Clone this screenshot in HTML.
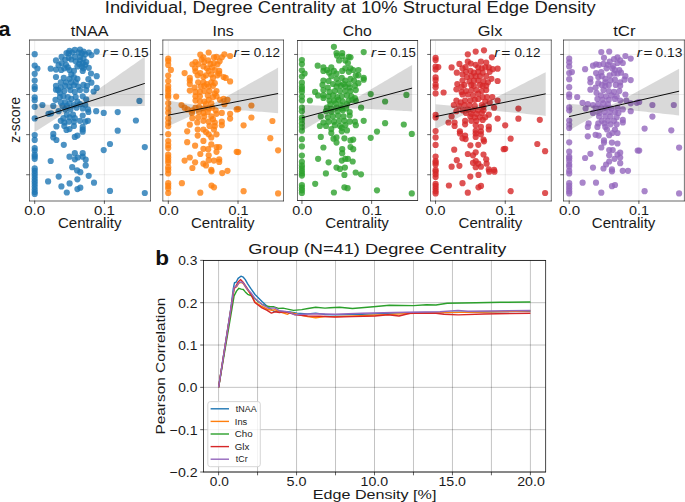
<!DOCTYPE html>
<html><head><meta charset="utf-8"><style>
html,body{margin:0;padding:0;background:#fff;width:685px;height:502px;overflow:hidden}
svg text{font-family:"Liberation Sans", sans-serif}
</style></head><body style="position:relative">
<svg width="685" height="502" viewBox="0 0 685 502" style="position:absolute;left:0;top:0">
<rect width="685" height="502" fill="#fff"/>
<text x="104.80" y="12.6" font-size="16.3" fill="#1a1a1a" textLength="490.80" lengthAdjust="spacingAndGlyphs">Individual, Degree Centrality at 10% Structural Edge Density</text>
<text x="-1.60" y="36.4" font-size="19.5" font-weight="bold" fill="#111" textLength="12.00" lengthAdjust="spacingAndGlyphs">a</text>
<defs><clipPath id="c0"><rect x="29.45" y="40.4" width="120.95" height="160.20"/></clipPath></defs>
<g clip-path="url(#c0)">
<line x1="29.45" x2="150.4" y1="54.45" y2="54.45" stroke="#000" stroke-opacity="0.075" stroke-width="1"/>
<line x1="29.45" x2="150.4" y1="94.55" y2="94.55" stroke="#000" stroke-opacity="0.075" stroke-width="1"/>
<line x1="29.45" x2="150.4" y1="134.65" y2="134.65" stroke="#000" stroke-opacity="0.075" stroke-width="1"/>
<line x1="29.45" x2="150.4" y1="174.75" y2="174.75" stroke="#000" stroke-opacity="0.075" stroke-width="1"/>
<line x1="34.70" x2="34.70" y1="40.4" y2="200.6" stroke="#000" stroke-opacity="0.075" stroke-width="1"/>
<line x1="104.40" x2="104.40" y1="40.4" y2="200.6" stroke="#000" stroke-opacity="0.075" stroke-width="1"/>
<g fill="#1f77b4" fill-opacity="0.8">
<circle cx="34.7" cy="54.2" r="3.1"/>
<circle cx="34.7" cy="65.5" r="3.1"/>
<circle cx="34.7" cy="73.8" r="3.1"/>
<circle cx="34.7" cy="80.6" r="3.1"/>
<circle cx="34.7" cy="86.7" r="3.1"/>
<circle cx="34.7" cy="89.0" r="3.1"/>
<circle cx="34.7" cy="97.3" r="3.1"/>
<circle cx="34.7" cy="100.2" r="3.1"/>
<circle cx="34.7" cy="106.8" r="3.1"/>
<circle cx="34.7" cy="118.4" r="3.1"/>
<circle cx="37.4" cy="68.5" r="3.1"/>
<circle cx="42.4" cy="105.0" r="3.1"/>
<circle cx="139.4" cy="100.9" r="3.1"/>
<circle cx="117.7" cy="112.1" r="3.1"/>
<circle cx="135.9" cy="120.5" r="3.1"/>
<circle cx="34.7" cy="135.1" r="3.1"/>
<circle cx="34.7" cy="139.9" r="3.1"/>
<circle cx="34.7" cy="148.1" r="3.1"/>
<circle cx="34.7" cy="150.6" r="3.1"/>
<circle cx="34.7" cy="154.7" r="3.1"/>
<circle cx="34.7" cy="156.5" r="3.1"/>
<circle cx="34.7" cy="158.8" r="3.1"/>
<circle cx="34.7" cy="168.4" r="3.1"/>
<circle cx="34.7" cy="170.8" r="3.1"/>
<circle cx="34.7" cy="173.4" r="3.1"/>
<circle cx="34.7" cy="176.1" r="3.1"/>
<circle cx="34.7" cy="178.8" r="3.1"/>
<circle cx="34.7" cy="181.4" r="3.1"/>
<circle cx="34.7" cy="184.1" r="3.1"/>
<circle cx="34.7" cy="186.8" r="3.1"/>
<circle cx="34.7" cy="189.5" r="3.1"/>
<circle cx="34.7" cy="192.1" r="3.1"/>
<circle cx="34.7" cy="193.9" r="3.1"/>
<circle cx="77.1" cy="170.4" r="3.1"/>
<circle cx="80.3" cy="172.2" r="3.1"/>
<circle cx="77.4" cy="179.3" r="3.1"/>
<circle cx="88.7" cy="175.8" r="3.1"/>
<circle cx="58.7" cy="176.6" r="3.1"/>
<circle cx="48.1" cy="181.4" r="3.1"/>
<circle cx="69.6" cy="183.4" r="3.1"/>
<circle cx="61.4" cy="186.4" r="3.1"/>
<circle cx="66.8" cy="192.5" r="3.1"/>
<circle cx="77.4" cy="189.1" r="3.1"/>
<circle cx="80.3" cy="187.7" r="3.1"/>
<circle cx="94.0" cy="182.7" r="3.1"/>
<circle cx="110.0" cy="190.9" r="3.1"/>
<circle cx="144.8" cy="193.0" r="3.1"/>
<circle cx="110.0" cy="144.0" r="3.1"/>
<circle cx="144.8" cy="147.1" r="3.1"/>
<circle cx="117.7" cy="130.7" r="3.1"/>
<circle cx="66.5" cy="53.0" r="3.1"/>
<circle cx="69.5" cy="50.8" r="3.1"/>
<circle cx="74.8" cy="49.9" r="3.1"/>
<circle cx="80.0" cy="49.5" r="3.1"/>
<circle cx="83.5" cy="51.6" r="3.1"/>
<circle cx="88.8" cy="52.5" r="3.1"/>
<circle cx="91.4" cy="55.1" r="3.1"/>
<circle cx="96.7" cy="51.6" r="3.1"/>
<circle cx="68.7" cy="53.4" r="3.1"/>
<circle cx="72.2" cy="52.5" r="3.1"/>
<circle cx="78.3" cy="52.5" r="3.1"/>
<circle cx="81.8" cy="53.4" r="3.1"/>
<circle cx="85.3" cy="54.3" r="3.1"/>
<circle cx="61.6" cy="56.9" r="3.1"/>
<circle cx="56.0" cy="60.4" r="3.1"/>
<circle cx="65.2" cy="59.5" r="3.1"/>
<circle cx="68.7" cy="57.8" r="3.1"/>
<circle cx="71.3" cy="59.5" r="3.1"/>
<circle cx="74.8" cy="56.9" r="3.1"/>
<circle cx="80.0" cy="56.9" r="3.1"/>
<circle cx="75.7" cy="61.3" r="3.1"/>
<circle cx="80.0" cy="60.4" r="3.1"/>
<circle cx="83.5" cy="58.6" r="3.1"/>
<circle cx="86.2" cy="62.1" r="3.1"/>
<circle cx="85.3" cy="64.8" r="3.1"/>
<circle cx="88.8" cy="67.8" r="3.1"/>
<circle cx="79.2" cy="63.9" r="3.1"/>
<circle cx="82.7" cy="63.0" r="3.1"/>
<circle cx="58.6" cy="65.2" r="3.1"/>
<circle cx="61.6" cy="63.0" r="3.1"/>
<circle cx="66.0" cy="64.8" r="3.1"/>
<circle cx="67.8" cy="67.4" r="3.1"/>
<circle cx="77.4" cy="66.5" r="3.1"/>
<circle cx="81.8" cy="66.5" r="3.1"/>
<circle cx="50.7" cy="68.7" r="3.1"/>
<circle cx="56.0" cy="69.6" r="3.1"/>
<circle cx="61.2" cy="70.0" r="3.1"/>
<circle cx="64.3" cy="68.3" r="3.1"/>
<circle cx="69.5" cy="70.0" r="3.1"/>
<circle cx="73.9" cy="70.9" r="3.1"/>
<circle cx="82.7" cy="70.9" r="3.1"/>
<circle cx="83.5" cy="68.3" r="3.1"/>
<circle cx="56.0" cy="77.0" r="3.1"/>
<circle cx="63.8" cy="77.9" r="3.1"/>
<circle cx="69.5" cy="78.8" r="3.1"/>
<circle cx="73.9" cy="77.0" r="3.1"/>
<circle cx="77.4" cy="78.8" r="3.1"/>
<circle cx="71.3" cy="74.4" r="3.1"/>
<circle cx="91.0" cy="73.5" r="3.1"/>
<circle cx="96.7" cy="76.2" r="3.1"/>
<circle cx="88.4" cy="79.2" r="3.1"/>
<circle cx="91.4" cy="82.7" r="3.1"/>
<circle cx="60.8" cy="82.3" r="3.1"/>
<circle cx="66.0" cy="82.3" r="3.1"/>
<circle cx="71.3" cy="82.3" r="3.1"/>
<circle cx="75.7" cy="82.3" r="3.1"/>
<circle cx="83.5" cy="84.9" r="3.1"/>
<circle cx="56.0" cy="85.8" r="3.1"/>
<circle cx="56.0" cy="89.7" r="3.1"/>
<circle cx="60.8" cy="87.5" r="3.1"/>
<circle cx="65.2" cy="85.8" r="3.1"/>
<circle cx="69.5" cy="86.6" r="3.1"/>
<circle cx="73.9" cy="85.3" r="3.1"/>
<circle cx="78.3" cy="86.6" r="3.1"/>
<circle cx="87.0" cy="85.8" r="3.1"/>
<circle cx="96.7" cy="87.9" r="3.1"/>
<circle cx="93.6" cy="91.5" r="3.1"/>
<circle cx="86.2" cy="90.1" r="3.1"/>
<circle cx="80.0" cy="90.1" r="3.1"/>
<circle cx="74.8" cy="91.9" r="3.1"/>
<circle cx="70.4" cy="90.1" r="3.1"/>
<circle cx="64.3" cy="91.0" r="3.1"/>
<circle cx="59.9" cy="92.8" r="3.1"/>
<circle cx="58.1" cy="90.1" r="3.1"/>
<circle cx="55.5" cy="99.8" r="3.1"/>
<circle cx="59.9" cy="97.1" r="3.1"/>
<circle cx="63.4" cy="96.3" r="3.1"/>
<circle cx="67.8" cy="97.1" r="3.1"/>
<circle cx="71.3" cy="98.9" r="3.1"/>
<circle cx="75.7" cy="97.1" r="3.1"/>
<circle cx="82.7" cy="96.3" r="3.1"/>
<circle cx="86.2" cy="99.3" r="3.1"/>
<circle cx="77.4" cy="101.5" r="3.1"/>
<circle cx="60.8" cy="102.4" r="3.1"/>
<circle cx="65.2" cy="102.4" r="3.1"/>
<circle cx="69.5" cy="103.3" r="3.1"/>
<circle cx="62.5" cy="105.9" r="3.1"/>
<circle cx="66.9" cy="105.9" r="3.1"/>
<circle cx="73.9" cy="105.0" r="3.1"/>
<circle cx="80.0" cy="104.2" r="3.1"/>
<circle cx="85.3" cy="105.0" r="3.1"/>
<circle cx="53.3" cy="105.9" r="3.1"/>
<circle cx="48.5" cy="113.8" r="3.1"/>
<circle cx="51.1" cy="113.3" r="3.1"/>
<circle cx="58.6" cy="111.2" r="3.1"/>
<circle cx="65.2" cy="109.4" r="3.1"/>
<circle cx="70.4" cy="109.4" r="3.1"/>
<circle cx="76.5" cy="107.7" r="3.1"/>
<circle cx="82.7" cy="108.5" r="3.1"/>
<circle cx="87.9" cy="109.4" r="3.1"/>
<circle cx="88.4" cy="112.0" r="3.1"/>
<circle cx="96.2" cy="111.2" r="3.1"/>
<circle cx="103.7" cy="112.9" r="3.1"/>
<circle cx="66.9" cy="114.7" r="3.1"/>
<circle cx="73.0" cy="114.7" r="3.1"/>
<circle cx="82.7" cy="115.5" r="3.1"/>
<circle cx="63.4" cy="118.2" r="3.1"/>
<circle cx="69.5" cy="117.3" r="3.1"/>
<circle cx="74.8" cy="118.2" r="3.1"/>
<circle cx="60.8" cy="120.8" r="3.1"/>
<circle cx="64.3" cy="122.5" r="3.1"/>
<circle cx="68.7" cy="121.7" r="3.1"/>
<circle cx="73.9" cy="121.7" r="3.1"/>
<circle cx="80.0" cy="120.8" r="3.1"/>
<circle cx="87.9" cy="120.8" r="3.1"/>
<circle cx="85.3" cy="121.7" r="3.1"/>
<circle cx="56.4" cy="126.5" r="3.1"/>
<circle cx="64.3" cy="126.0" r="3.1"/>
<circle cx="73.9" cy="126.0" r="3.1"/>
<circle cx="82.7" cy="126.9" r="3.1"/>
<circle cx="66.5" cy="129.9" r="3.1"/>
<circle cx="69.5" cy="129.1" r="3.1"/>
<circle cx="82.7" cy="129.5" r="3.1"/>
<circle cx="82.7" cy="131.7" r="3.1"/>
<circle cx="53.3" cy="133.9" r="3.1"/>
<circle cx="53.3" cy="137.4" r="3.1"/>
<circle cx="56.4" cy="140.0" r="3.1"/>
<circle cx="74.8" cy="136.9" r="3.1"/>
<circle cx="77.4" cy="135.6" r="3.1"/>
<circle cx="63.8" cy="144.8" r="3.1"/>
<circle cx="103.7" cy="150.1" r="3.1"/>
<circle cx="74.8" cy="153.2" r="3.1"/>
<circle cx="82.7" cy="153.2" r="3.1"/>
<circle cx="69.5" cy="156.7" r="3.1"/>
<circle cx="74.8" cy="159.3" r="3.1"/>
<circle cx="77.8" cy="157.5" r="3.1"/>
<circle cx="82.7" cy="156.7" r="3.1"/>
<circle cx="85.7" cy="159.7" r="3.1"/>
<circle cx="85.7" cy="165.4" r="3.1"/>
<circle cx="50.7" cy="161.0" r="3.1"/>
<circle cx="72.2" cy="167.2" r="3.1"/>
</g>
<polygon points="34.8,103.98 37.55,104.12 40.3,104.26 43.05,104.39 45.8,104.52 48.55,104.65 51.3,104.78 54.05,104.9 56.8,105.01 59.55,105.1 62.3,105.18 65.05,105.22 67.8,105.19 70.55,105.02 73.3,104.56 76.05,103.62 78.8,102.22 81.55,100.56 84.3,98.79 87.05,96.95 89.8,95.09 92.55,93.2 95.3,91.31 98.05,89.4 100.8,87.49 103.55,85.58 106.3,83.66 109.05,81.74 111.8,79.82 114.55,77.89 117.3,75.97 120.05,74.04 122.8,72.12 125.55,70.19 128.3,68.26 131.05,66.33 133.8,64.41 136.55,62.48 139.3,60.55 142.05,58.62 144.8,56.69 144.8,106.09 142.05,106.1 139.3,106.12 136.55,106.13 133.8,106.14 131.05,106.16 128.3,106.17 125.55,106.19 122.8,106.21 120.05,106.22 117.3,106.24 114.55,106.26 111.8,106.28 109.05,106.3 106.3,106.33 103.55,106.36 100.8,106.39 98.05,106.42 95.3,106.47 92.55,106.52 89.8,106.58 87.05,106.67 84.3,106.79 81.55,106.97 78.8,107.27 76.05,107.78 73.3,108.64 70.55,109.85 67.8,111.3 65.05,112.89 62.3,114.54 59.55,116.24 56.8,117.95 54.05,119.68 51.3,121.43 48.55,123.17 45.8,124.93 43.05,126.68 40.3,128.44 37.55,130.21 34.8,131.97" fill="#000" fill-opacity="0.15"/>
<line x1="34.8" y1="119.1" x2="144.8" y2="83.4" stroke="#000" stroke-width="0.95"/>
</g>
<line x1="29.5" x2="29.5" y1="39.7" y2="201.3" stroke="#000" stroke-width="0.55"/>
<line x1="150.5" x2="150.5" y1="39.7" y2="201.3" stroke="#000" stroke-width="0.55"/>
<line x1="29.2" x2="150.8" y1="40.0" y2="40.0" stroke="#000" stroke-width="0.6"/>
<line x1="29.2" x2="150.8" y1="201.0" y2="201.0" stroke="#000" stroke-width="0.6"/>
<line x1="26.15" x2="29.45" y1="54.45" y2="54.45" stroke="#000" stroke-width="0.62"/>
<line x1="26.15" x2="29.45" y1="94.55" y2="94.55" stroke="#000" stroke-width="0.62"/>
<line x1="26.15" x2="29.45" y1="134.65" y2="134.65" stroke="#000" stroke-width="0.62"/>
<line x1="26.15" x2="29.45" y1="174.75" y2="174.75" stroke="#000" stroke-width="0.62"/>
<line x1="34.70" x2="34.70" y1="200.6" y2="203.9" stroke="#000" stroke-width="0.62"/>
<line x1="104.40" x2="104.40" y1="200.6" y2="203.9" stroke="#000" stroke-width="0.62"/>
<text x="70.80" y="36.3" font-size="14.7" fill="#1a1a1a" textLength="37.60" lengthAdjust="spacingAndGlyphs">tNAA</text>
<text x="24.20" y="214.9" font-size="13.3" fill="#1a1a1a" textLength="21.00" lengthAdjust="spacingAndGlyphs">0.0</text>
<text x="94.00" y="214.9" font-size="13.3" fill="#1a1a1a" textLength="21.00" lengthAdjust="spacingAndGlyphs">0.1</text>
<text x="57.90" y="228.4" font-size="14.0" fill="#1a1a1a" textLength="63.60" lengthAdjust="spacingAndGlyphs">Centrality</text>
<text x="102.60" y="56.7" font-size="12.8" font-style="italic" fill="#1a1a1a" textLength="5.20" lengthAdjust="spacingAndGlyphs">r</text>
<text x="110.00" y="56.7" font-size="12.8" fill="#1a1a1a" textLength="8.60" lengthAdjust="spacingAndGlyphs">=</text>
<text x="122.00" y="56.7" font-size="12.8" fill="#1a1a1a" textLength="26.60" lengthAdjust="spacingAndGlyphs">0.15</text>
<defs><clipPath id="c1"><rect x="163.0" y="40.4" width="120.40" height="160.20"/></clipPath></defs>
<g clip-path="url(#c1)">
<line x1="163.0" x2="283.4" y1="54.45" y2="54.45" stroke="#000" stroke-opacity="0.075" stroke-width="1"/>
<line x1="163.0" x2="283.4" y1="94.55" y2="94.55" stroke="#000" stroke-opacity="0.075" stroke-width="1"/>
<line x1="163.0" x2="283.4" y1="134.65" y2="134.65" stroke="#000" stroke-opacity="0.075" stroke-width="1"/>
<line x1="163.0" x2="283.4" y1="174.75" y2="174.75" stroke="#000" stroke-opacity="0.075" stroke-width="1"/>
<line x1="168.32" x2="168.32" y1="40.4" y2="200.6" stroke="#000" stroke-opacity="0.075" stroke-width="1"/>
<line x1="238.02" x2="238.02" y1="40.4" y2="200.6" stroke="#000" stroke-opacity="0.075" stroke-width="1"/>
<g fill="#ff7f0e" fill-opacity="0.8">
<circle cx="168.2" cy="58.7" r="3.1"/>
<circle cx="168.2" cy="61.0" r="3.1"/>
<circle cx="168.2" cy="64.9" r="3.1"/>
<circle cx="168.2" cy="75.6" r="3.1"/>
<circle cx="168.2" cy="81.0" r="3.1"/>
<circle cx="168.2" cy="86.0" r="3.1"/>
<circle cx="168.2" cy="89.0" r="3.1"/>
<circle cx="168.2" cy="91.7" r="3.1"/>
<circle cx="168.2" cy="95.2" r="3.1"/>
<circle cx="168.2" cy="97.3" r="3.1"/>
<circle cx="168.2" cy="103.2" r="3.1"/>
<circle cx="168.2" cy="108.6" r="3.1"/>
<circle cx="168.2" cy="112.7" r="3.1"/>
<circle cx="168.2" cy="118.4" r="3.1"/>
<circle cx="170.9" cy="69.9" r="3.1"/>
<circle cx="176.2" cy="96.6" r="3.1"/>
<circle cx="238.2" cy="109.1" r="3.1"/>
<circle cx="251.4" cy="105.5" r="3.1"/>
<circle cx="251.4" cy="117.5" r="3.1"/>
<circle cx="272.4" cy="121.0" r="3.1"/>
<circle cx="168.2" cy="122.7" r="3.1"/>
<circle cx="168.2" cy="126.2" r="3.1"/>
<circle cx="168.2" cy="134.2" r="3.1"/>
<circle cx="168.2" cy="141.0" r="3.1"/>
<circle cx="168.2" cy="144.9" r="3.1"/>
<circle cx="168.2" cy="148.1" r="3.1"/>
<circle cx="168.2" cy="154.7" r="3.1"/>
<circle cx="168.2" cy="157.4" r="3.1"/>
<circle cx="168.2" cy="160.1" r="3.1"/>
<circle cx="168.2" cy="162.7" r="3.1"/>
<circle cx="168.2" cy="167.2" r="3.1"/>
<circle cx="168.2" cy="169.9" r="3.1"/>
<circle cx="168.2" cy="173.4" r="3.1"/>
<circle cx="168.2" cy="183.2" r="3.1"/>
<circle cx="168.2" cy="185.9" r="3.1"/>
<circle cx="168.2" cy="188.6" r="3.1"/>
<circle cx="168.2" cy="193.0" r="3.1"/>
<circle cx="211.5" cy="171.3" r="3.1"/>
<circle cx="222.2" cy="173.1" r="3.1"/>
<circle cx="227.5" cy="170.8" r="3.1"/>
<circle cx="181.9" cy="183.2" r="3.1"/>
<circle cx="211.5" cy="185.5" r="3.1"/>
<circle cx="214.0" cy="187.3" r="3.1"/>
<circle cx="200.3" cy="192.7" r="3.1"/>
<circle cx="243.6" cy="191.2" r="3.1"/>
<circle cx="278.1" cy="193.4" r="3.1"/>
<circle cx="238.2" cy="152.1" r="3.1"/>
<circle cx="278.1" cy="150.3" r="3.1"/>
<circle cx="270.3" cy="138.2" r="3.1"/>
<circle cx="243.6" cy="125.3" r="3.1"/>
<circle cx="208.7" cy="52.5" r="3.1"/>
<circle cx="200.3" cy="54.7" r="3.1"/>
<circle cx="203.4" cy="57.3" r="3.1"/>
<circle cx="213.9" cy="57.3" r="3.1"/>
<circle cx="216.5" cy="56.9" r="3.1"/>
<circle cx="221.8" cy="57.3" r="3.1"/>
<circle cx="224.4" cy="54.3" r="3.1"/>
<circle cx="230.1" cy="56.0" r="3.1"/>
<circle cx="192.4" cy="64.3" r="3.1"/>
<circle cx="195.5" cy="62.1" r="3.1"/>
<circle cx="198.2" cy="64.3" r="3.1"/>
<circle cx="201.7" cy="59.5" r="3.1"/>
<circle cx="204.3" cy="62.1" r="3.1"/>
<circle cx="208.2" cy="60.4" r="3.1"/>
<circle cx="210.4" cy="63.9" r="3.1"/>
<circle cx="213.9" cy="63.0" r="3.1"/>
<circle cx="217.4" cy="64.3" r="3.1"/>
<circle cx="219.6" cy="61.3" r="3.1"/>
<circle cx="195.1" cy="68.3" r="3.1"/>
<circle cx="195.5" cy="71.3" r="3.1"/>
<circle cx="203.4" cy="66.5" r="3.1"/>
<circle cx="206.9" cy="68.3" r="3.1"/>
<circle cx="208.7" cy="70.9" r="3.1"/>
<circle cx="212.2" cy="67.4" r="3.1"/>
<circle cx="214.8" cy="70.0" r="3.1"/>
<circle cx="219.2" cy="70.9" r="3.1"/>
<circle cx="184.6" cy="73.1" r="3.1"/>
<circle cx="200.3" cy="73.1" r="3.1"/>
<circle cx="197.7" cy="75.3" r="3.1"/>
<circle cx="203.4" cy="77.0" r="3.1"/>
<circle cx="206.0" cy="75.3" r="3.1"/>
<circle cx="211.3" cy="74.4" r="3.1"/>
<circle cx="213.0" cy="77.9" r="3.1"/>
<circle cx="217.4" cy="75.3" r="3.1"/>
<circle cx="219.2" cy="73.5" r="3.1"/>
<circle cx="223.6" cy="77.0" r="3.1"/>
<circle cx="225.7" cy="77.9" r="3.1"/>
<circle cx="230.1" cy="81.4" r="3.1"/>
<circle cx="189.8" cy="77.9" r="3.1"/>
<circle cx="189.8" cy="80.5" r="3.1"/>
<circle cx="189.8" cy="84.0" r="3.1"/>
<circle cx="198.2" cy="82.3" r="3.1"/>
<circle cx="203.4" cy="82.3" r="3.1"/>
<circle cx="206.9" cy="84.0" r="3.1"/>
<circle cx="211.3" cy="82.3" r="3.1"/>
<circle cx="214.8" cy="83.2" r="3.1"/>
<circle cx="189.8" cy="90.6" r="3.1"/>
<circle cx="194.6" cy="87.5" r="3.1"/>
<circle cx="195.5" cy="91.9" r="3.1"/>
<circle cx="200.8" cy="86.6" r="3.1"/>
<circle cx="204.3" cy="85.8" r="3.1"/>
<circle cx="208.7" cy="86.6" r="3.1"/>
<circle cx="213.0" cy="85.8" r="3.1"/>
<circle cx="216.5" cy="91.0" r="3.1"/>
<circle cx="214.8" cy="93.6" r="3.1"/>
<circle cx="209.5" cy="91.0" r="3.1"/>
<circle cx="204.3" cy="91.0" r="3.1"/>
<circle cx="199.9" cy="91.9" r="3.1"/>
<circle cx="195.5" cy="96.3" r="3.1"/>
<circle cx="199.9" cy="96.3" r="3.1"/>
<circle cx="207.8" cy="95.4" r="3.1"/>
<circle cx="213.0" cy="97.1" r="3.1"/>
<circle cx="216.5" cy="96.3" r="3.1"/>
<circle cx="220.0" cy="99.8" r="3.1"/>
<circle cx="223.6" cy="98.9" r="3.1"/>
<circle cx="227.5" cy="99.8" r="3.1"/>
<circle cx="224.4" cy="104.2" r="3.1"/>
<circle cx="195.5" cy="100.6" r="3.1"/>
<circle cx="199.9" cy="101.5" r="3.1"/>
<circle cx="204.3" cy="101.5" r="3.1"/>
<circle cx="208.7" cy="99.8" r="3.1"/>
<circle cx="211.3" cy="103.3" r="3.1"/>
<circle cx="206.0" cy="104.2" r="3.1"/>
<circle cx="181.5" cy="105.0" r="3.1"/>
<circle cx="184.6" cy="107.7" r="3.1"/>
<circle cx="187.6" cy="109.4" r="3.1"/>
<circle cx="192.4" cy="110.3" r="3.1"/>
<circle cx="192.0" cy="112.9" r="3.1"/>
<circle cx="195.5" cy="107.7" r="3.1"/>
<circle cx="199.0" cy="106.8" r="3.1"/>
<circle cx="203.4" cy="108.5" r="3.1"/>
<circle cx="208.7" cy="108.5" r="3.1"/>
<circle cx="212.2" cy="107.7" r="3.1"/>
<circle cx="215.7" cy="110.3" r="3.1"/>
<circle cx="216.5" cy="113.8" r="3.1"/>
<circle cx="221.8" cy="112.9" r="3.1"/>
<circle cx="230.1" cy="113.8" r="3.1"/>
<circle cx="236.7" cy="109.4" r="3.1"/>
<circle cx="199.0" cy="112.0" r="3.1"/>
<circle cx="203.4" cy="112.9" r="3.1"/>
<circle cx="207.8" cy="112.0" r="3.1"/>
<circle cx="192.4" cy="118.2" r="3.1"/>
<circle cx="198.2" cy="117.3" r="3.1"/>
<circle cx="204.3" cy="116.4" r="3.1"/>
<circle cx="211.3" cy="116.4" r="3.1"/>
<circle cx="213.0" cy="119.0" r="3.1"/>
<circle cx="230.1" cy="118.6" r="3.1"/>
<circle cx="197.3" cy="122.5" r="3.1"/>
<circle cx="203.4" cy="120.8" r="3.1"/>
<circle cx="208.7" cy="121.7" r="3.1"/>
<circle cx="214.8" cy="122.5" r="3.1"/>
<circle cx="221.8" cy="121.7" r="3.1"/>
<circle cx="189.8" cy="124.7" r="3.1"/>
<circle cx="209.5" cy="126.0" r="3.1"/>
<circle cx="214.8" cy="126.0" r="3.1"/>
<circle cx="221.8" cy="125.2" r="3.1"/>
<circle cx="197.7" cy="129.5" r="3.1"/>
<circle cx="203.4" cy="129.5" r="3.1"/>
<circle cx="206.0" cy="132.1" r="3.1"/>
<circle cx="213.9" cy="129.5" r="3.1"/>
<circle cx="187.2" cy="131.3" r="3.1"/>
<circle cx="197.7" cy="135.6" r="3.1"/>
<circle cx="208.7" cy="134.3" r="3.1"/>
<circle cx="211.3" cy="137.4" r="3.1"/>
<circle cx="216.5" cy="134.3" r="3.1"/>
<circle cx="187.2" cy="142.2" r="3.1"/>
<circle cx="203.4" cy="140.9" r="3.1"/>
<circle cx="195.1" cy="145.7" r="3.1"/>
<circle cx="211.3" cy="144.4" r="3.1"/>
<circle cx="216.5" cy="147.0" r="3.1"/>
<circle cx="219.2" cy="147.0" r="3.1"/>
<circle cx="203.4" cy="148.8" r="3.1"/>
<circle cx="208.2" cy="149.2" r="3.1"/>
<circle cx="200.3" cy="154.0" r="3.1"/>
<circle cx="216.5" cy="151.8" r="3.1"/>
<circle cx="236.7" cy="151.8" r="3.1"/>
<circle cx="189.8" cy="157.5" r="3.1"/>
<circle cx="184.6" cy="160.6" r="3.1"/>
<circle cx="195.1" cy="162.3" r="3.1"/>
<circle cx="208.7" cy="155.3" r="3.1"/>
<circle cx="208.7" cy="160.2" r="3.1"/>
<circle cx="213.9" cy="160.6" r="3.1"/>
<circle cx="219.2" cy="159.3" r="3.1"/>
<circle cx="219.2" cy="161.9" r="3.1"/>
<circle cx="203.4" cy="163.7" r="3.1"/>
<circle cx="206.0" cy="165.4" r="3.1"/>
<circle cx="192.4" cy="168.0" r="3.1"/>
<circle cx="211.3" cy="169.8" r="3.1"/>
</g>
<polygon points="168.2,100.54 170.95,101.0 173.69,101.45 176.44,101.9 179.19,102.35 181.94,102.8 184.69,103.24 187.43,103.68 190.18,104.1 192.93,104.52 195.68,104.91 198.42,105.26 201.17,105.55 203.92,105.7 206.66,105.56 209.41,104.97 212.16,103.95 214.91,102.68 217.66,101.29 220.4,99.84 223.15,98.36 225.9,96.86 228.65,95.34 231.39,93.82 234.14,92.29 236.89,90.76 239.64,89.23 242.38,87.69 245.13,86.15 247.88,84.61 250.62,83.07 253.37,81.52 256.12,79.98 258.87,78.43 261.62,76.89 264.36,75.34 267.11,73.8 269.86,72.25 272.61,70.7 275.35,69.15 278.1,67.61 278.1,113.17 275.35,112.96 272.61,112.74 269.86,112.52 267.11,112.3 264.36,112.09 261.62,111.87 258.87,111.66 256.12,111.44 253.37,111.23 250.62,111.02 247.88,110.81 245.13,110.6 242.38,110.39 239.64,110.19 236.89,109.98 234.14,109.79 231.39,109.6 228.65,109.41 225.9,109.24 223.15,109.08 220.4,108.94 217.66,108.84 214.91,108.8 212.16,108.86 209.41,109.11 206.66,109.63 203.92,110.42 201.17,111.4 198.42,112.51 195.68,113.69 192.93,114.9 190.18,116.15 187.43,117.4 184.69,118.67 181.94,119.95 179.19,121.23 176.44,122.51 173.69,123.8 170.95,125.1 168.2,126.39" fill="#000" fill-opacity="0.15"/>
<line x1="168.2" y1="115.2" x2="278.1" y2="93.5" stroke="#000" stroke-width="0.95"/>
</g>
<line x1="162.8" x2="162.8" y1="39.7" y2="201.3" stroke="#000" stroke-width="0.55"/>
<line x1="283.5" x2="283.5" y1="39.7" y2="201.3" stroke="#000" stroke-width="0.55"/>
<line x1="162.5" x2="283.8" y1="40.0" y2="40.0" stroke="#000" stroke-width="0.6"/>
<line x1="162.5" x2="283.8" y1="201.0" y2="201.0" stroke="#000" stroke-width="0.6"/>
<line x1="159.7" x2="163.0" y1="54.45" y2="54.45" stroke="#000" stroke-width="0.62"/>
<line x1="159.7" x2="163.0" y1="94.55" y2="94.55" stroke="#000" stroke-width="0.62"/>
<line x1="159.7" x2="163.0" y1="134.65" y2="134.65" stroke="#000" stroke-width="0.62"/>
<line x1="159.7" x2="163.0" y1="174.75" y2="174.75" stroke="#000" stroke-width="0.62"/>
<line x1="168.32" x2="168.32" y1="200.6" y2="203.9" stroke="#000" stroke-width="0.62"/>
<line x1="238.02" x2="238.02" y1="200.6" y2="203.9" stroke="#000" stroke-width="0.62"/>
<text x="212.60" y="36.3" font-size="14.7" fill="#1a1a1a" textLength="21.20" lengthAdjust="spacingAndGlyphs">Ins</text>
<text x="158.68" y="214.9" font-size="13.3" fill="#1a1a1a" textLength="20.00" lengthAdjust="spacingAndGlyphs">0.0</text>
<text x="228.48" y="214.9" font-size="13.3" fill="#1a1a1a" textLength="20.00" lengthAdjust="spacingAndGlyphs">0.1</text>
<text x="191.00" y="228.4" font-size="14.0" fill="#1a1a1a" textLength="63.60" lengthAdjust="spacingAndGlyphs">Centrality</text>
<text x="233.60" y="56.7" font-size="12.8" font-style="italic" fill="#1a1a1a" textLength="5.20" lengthAdjust="spacingAndGlyphs">r</text>
<text x="240.60" y="56.7" font-size="12.8" fill="#1a1a1a" textLength="9.80" lengthAdjust="spacingAndGlyphs">=</text>
<text x="253.80" y="56.7" font-size="12.8" fill="#1a1a1a" textLength="26.20" lengthAdjust="spacingAndGlyphs">0.12</text>
<defs><clipPath id="c2"><rect x="297.45" y="40.4" width="120.15" height="160.20"/></clipPath></defs>
<g clip-path="url(#c2)">
<line x1="297.45" x2="417.6" y1="54.45" y2="54.45" stroke="#000" stroke-opacity="0.075" stroke-width="1"/>
<line x1="297.45" x2="417.6" y1="94.55" y2="94.55" stroke="#000" stroke-opacity="0.075" stroke-width="1"/>
<line x1="297.45" x2="417.6" y1="134.65" y2="134.65" stroke="#000" stroke-opacity="0.075" stroke-width="1"/>
<line x1="297.45" x2="417.6" y1="174.75" y2="174.75" stroke="#000" stroke-opacity="0.075" stroke-width="1"/>
<line x1="301.94" x2="301.94" y1="40.4" y2="200.6" stroke="#000" stroke-opacity="0.075" stroke-width="1"/>
<line x1="371.64" x2="371.64" y1="40.4" y2="200.6" stroke="#000" stroke-opacity="0.075" stroke-width="1"/>
<g fill="#2ca02c" fill-opacity="0.8">
<circle cx="301.9" cy="60.0" r="3.1"/>
<circle cx="301.9" cy="64.0" r="3.1"/>
<circle cx="301.9" cy="70.3" r="3.1"/>
<circle cx="301.9" cy="76.5" r="3.1"/>
<circle cx="301.9" cy="82.7" r="3.1"/>
<circle cx="301.9" cy="86.7" r="3.1"/>
<circle cx="301.9" cy="89.0" r="3.1"/>
<circle cx="301.9" cy="91.7" r="3.1"/>
<circle cx="301.9" cy="96.6" r="3.1"/>
<circle cx="301.9" cy="100.5" r="3.1"/>
<circle cx="301.9" cy="107.7" r="3.1"/>
<circle cx="301.9" cy="111.2" r="3.1"/>
<circle cx="301.9" cy="117.5" r="3.1"/>
<circle cx="304.6" cy="73.5" r="3.1"/>
<circle cx="309.9" cy="100.5" r="3.1"/>
<circle cx="385.1" cy="101.5" r="3.1"/>
<circle cx="406.4" cy="94.9" r="3.1"/>
<circle cx="301.9" cy="120.0" r="3.1"/>
<circle cx="301.9" cy="123.6" r="3.1"/>
<circle cx="301.9" cy="127.1" r="3.1"/>
<circle cx="301.9" cy="130.7" r="3.1"/>
<circle cx="301.9" cy="139.2" r="3.1"/>
<circle cx="301.9" cy="146.4" r="3.1"/>
<circle cx="301.9" cy="155.6" r="3.1"/>
<circle cx="301.9" cy="161.8" r="3.1"/>
<circle cx="301.9" cy="165.4" r="3.1"/>
<circle cx="301.9" cy="168.1" r="3.1"/>
<circle cx="301.9" cy="170.8" r="3.1"/>
<circle cx="301.9" cy="173.4" r="3.1"/>
<circle cx="301.9" cy="175.6" r="3.1"/>
<circle cx="301.9" cy="185.0" r="3.1"/>
<circle cx="301.9" cy="187.7" r="3.1"/>
<circle cx="301.9" cy="190.3" r="3.1"/>
<circle cx="301.9" cy="193.0" r="3.1"/>
<circle cx="325.9" cy="173.4" r="3.1"/>
<circle cx="315.2" cy="183.8" r="3.1"/>
<circle cx="344.4" cy="174.9" r="3.1"/>
<circle cx="355.7" cy="172.5" r="3.1"/>
<circle cx="361.0" cy="174.3" r="3.1"/>
<circle cx="344.4" cy="187.3" r="3.1"/>
<circle cx="347.6" cy="188.2" r="3.1"/>
<circle cx="333.9" cy="192.5" r="3.1"/>
<circle cx="377.0" cy="190.3" r="3.1"/>
<circle cx="411.8" cy="193.4" r="3.1"/>
<circle cx="377.0" cy="131.6" r="3.1"/>
<circle cx="411.8" cy="133.9" r="3.1"/>
<circle cx="385.1" cy="123.2" r="3.1"/>
<circle cx="403.8" cy="124.5" r="3.1"/>
<circle cx="333.9" cy="46.8" r="3.1"/>
<circle cx="363.7" cy="52.1" r="3.1"/>
<circle cx="336.5" cy="53.0" r="3.1"/>
<circle cx="342.2" cy="53.0" r="3.1"/>
<circle cx="337.0" cy="55.6" r="3.1"/>
<circle cx="342.2" cy="56.0" r="3.1"/>
<circle cx="348.8" cy="56.9" r="3.1"/>
<circle cx="350.5" cy="57.3" r="3.1"/>
<circle cx="339.1" cy="60.4" r="3.1"/>
<circle cx="345.3" cy="60.4" r="3.1"/>
<circle cx="347.9" cy="63.0" r="3.1"/>
<circle cx="317.7" cy="65.7" r="3.1"/>
<circle cx="323.4" cy="67.4" r="3.1"/>
<circle cx="323.4" cy="70.9" r="3.1"/>
<circle cx="331.3" cy="67.4" r="3.1"/>
<circle cx="326.9" cy="70.0" r="3.1"/>
<circle cx="333.9" cy="70.9" r="3.1"/>
<circle cx="329.1" cy="72.7" r="3.1"/>
<circle cx="336.5" cy="73.5" r="3.1"/>
<circle cx="342.2" cy="70.9" r="3.1"/>
<circle cx="345.3" cy="68.3" r="3.1"/>
<circle cx="350.5" cy="68.3" r="3.1"/>
<circle cx="353.2" cy="70.0" r="3.1"/>
<circle cx="358.4" cy="70.0" r="3.1"/>
<circle cx="348.8" cy="71.8" r="3.1"/>
<circle cx="355.8" cy="75.3" r="3.1"/>
<circle cx="358.4" cy="75.3" r="3.1"/>
<circle cx="363.7" cy="77.9" r="3.1"/>
<circle cx="363.7" cy="79.7" r="3.1"/>
<circle cx="331.3" cy="76.2" r="3.1"/>
<circle cx="323.4" cy="80.5" r="3.1"/>
<circle cx="328.6" cy="81.0" r="3.1"/>
<circle cx="336.5" cy="78.8" r="3.1"/>
<circle cx="341.8" cy="77.9" r="3.1"/>
<circle cx="345.3" cy="80.5" r="3.1"/>
<circle cx="350.5" cy="78.8" r="3.1"/>
<circle cx="354.0" cy="80.5" r="3.1"/>
<circle cx="358.4" cy="83.2" r="3.1"/>
<circle cx="322.5" cy="84.9" r="3.1"/>
<circle cx="333.0" cy="84.0" r="3.1"/>
<circle cx="338.3" cy="83.2" r="3.1"/>
<circle cx="343.5" cy="84.0" r="3.1"/>
<circle cx="348.8" cy="84.0" r="3.1"/>
<circle cx="323.4" cy="90.1" r="3.1"/>
<circle cx="327.8" cy="87.5" r="3.1"/>
<circle cx="336.5" cy="86.6" r="3.1"/>
<circle cx="340.9" cy="85.8" r="3.1"/>
<circle cx="345.3" cy="86.6" r="3.1"/>
<circle cx="349.7" cy="87.5" r="3.1"/>
<circle cx="354.9" cy="85.8" r="3.1"/>
<circle cx="355.8" cy="90.1" r="3.1"/>
<circle cx="350.5" cy="91.0" r="3.1"/>
<circle cx="345.3" cy="91.0" r="3.1"/>
<circle cx="340.0" cy="91.0" r="3.1"/>
<circle cx="334.8" cy="91.0" r="3.1"/>
<circle cx="329.5" cy="91.9" r="3.1"/>
<circle cx="315.1" cy="91.9" r="3.1"/>
<circle cx="318.1" cy="95.4" r="3.1"/>
<circle cx="323.4" cy="95.4" r="3.1"/>
<circle cx="323.4" cy="98.0" r="3.1"/>
<circle cx="328.6" cy="96.3" r="3.1"/>
<circle cx="333.0" cy="95.4" r="3.1"/>
<circle cx="337.4" cy="97.1" r="3.1"/>
<circle cx="341.8" cy="96.3" r="3.1"/>
<circle cx="347.0" cy="95.4" r="3.1"/>
<circle cx="351.4" cy="96.3" r="3.1"/>
<circle cx="354.9" cy="98.0" r="3.1"/>
<circle cx="355.8" cy="100.6" r="3.1"/>
<circle cx="370.7" cy="94.1" r="3.1"/>
<circle cx="329.5" cy="100.6" r="3.1"/>
<circle cx="333.9" cy="100.6" r="3.1"/>
<circle cx="338.3" cy="99.8" r="3.1"/>
<circle cx="342.7" cy="101.5" r="3.1"/>
<circle cx="348.8" cy="100.6" r="3.1"/>
<circle cx="352.3" cy="99.8" r="3.1"/>
<circle cx="330.4" cy="104.2" r="3.1"/>
<circle cx="335.6" cy="103.3" r="3.1"/>
<circle cx="340.9" cy="105.0" r="3.1"/>
<circle cx="347.0" cy="104.2" r="3.1"/>
<circle cx="326.9" cy="107.7" r="3.1"/>
<circle cx="331.3" cy="108.5" r="3.1"/>
<circle cx="336.5" cy="107.7" r="3.1"/>
<circle cx="341.8" cy="108.5" r="3.1"/>
<circle cx="346.2" cy="108.5" r="3.1"/>
<circle cx="361.1" cy="107.7" r="3.1"/>
<circle cx="326.0" cy="111.2" r="3.1"/>
<circle cx="331.3" cy="112.0" r="3.1"/>
<circle cx="337.4" cy="111.2" r="3.1"/>
<circle cx="342.7" cy="110.3" r="3.1"/>
<circle cx="349.7" cy="112.0" r="3.1"/>
<circle cx="320.8" cy="116.4" r="3.1"/>
<circle cx="327.8" cy="117.3" r="3.1"/>
<circle cx="333.0" cy="116.4" r="3.1"/>
<circle cx="338.3" cy="115.5" r="3.1"/>
<circle cx="343.5" cy="116.4" r="3.1"/>
<circle cx="349.7" cy="115.5" r="3.1"/>
<circle cx="363.7" cy="120.8" r="3.1"/>
<circle cx="323.4" cy="122.5" r="3.1"/>
<circle cx="328.6" cy="121.7" r="3.1"/>
<circle cx="333.9" cy="121.7" r="3.1"/>
<circle cx="339.1" cy="120.8" r="3.1"/>
<circle cx="344.4" cy="120.8" r="3.1"/>
<circle cx="349.7" cy="121.7" r="3.1"/>
<circle cx="354.9" cy="121.7" r="3.1"/>
<circle cx="319.9" cy="126.0" r="3.1"/>
<circle cx="326.0" cy="126.0" r="3.1"/>
<circle cx="334.8" cy="125.2" r="3.1"/>
<circle cx="340.0" cy="126.0" r="3.1"/>
<circle cx="345.3" cy="125.2" r="3.1"/>
<circle cx="355.8" cy="125.2" r="3.1"/>
<circle cx="331.3" cy="129.1" r="3.1"/>
<circle cx="331.3" cy="133.0" r="3.1"/>
<circle cx="341.8" cy="127.8" r="3.1"/>
<circle cx="341.8" cy="131.3" r="3.1"/>
<circle cx="347.0" cy="130.4" r="3.1"/>
<circle cx="320.8" cy="136.9" r="3.1"/>
<circle cx="333.5" cy="138.7" r="3.1"/>
<circle cx="336.5" cy="137.4" r="3.1"/>
<circle cx="336.5" cy="142.6" r="3.1"/>
<circle cx="344.4" cy="138.3" r="3.1"/>
<circle cx="350.5" cy="140.4" r="3.1"/>
<circle cx="353.2" cy="139.6" r="3.1"/>
<circle cx="370.7" cy="137.8" r="3.1"/>
<circle cx="323.4" cy="147.5" r="3.1"/>
<circle cx="342.2" cy="149.2" r="3.1"/>
<circle cx="342.2" cy="153.2" r="3.1"/>
<circle cx="350.5" cy="147.0" r="3.1"/>
<circle cx="353.2" cy="149.2" r="3.1"/>
<circle cx="318.1" cy="158.8" r="3.1"/>
<circle cx="328.6" cy="162.3" r="3.1"/>
<circle cx="341.8" cy="160.6" r="3.1"/>
<circle cx="345.3" cy="158.8" r="3.1"/>
<circle cx="347.9" cy="158.8" r="3.1"/>
<circle cx="352.7" cy="161.5" r="3.1"/>
<circle cx="336.5" cy="167.6" r="3.1"/>
<circle cx="340.0" cy="168.9" r="3.1"/>
<circle cx="344.9" cy="167.6" r="3.1"/>
</g>
<polygon points="301.9,104.75 304.65,104.89 307.41,105.04 310.16,105.18 312.92,105.32 315.67,105.46 318.43,105.59 321.19,105.71 323.94,105.83 326.69,105.93 329.45,106.0 332.2,106.04 334.96,106.01 337.71,105.85 340.47,105.44 343.23,104.65 345.98,103.51 348.74,102.15 351.49,100.67 354.25,99.14 357.0,97.56 359.75,95.97 362.51,94.36 365.26,92.75 368.02,91.13 370.77,89.5 373.53,87.87 376.29,86.24 379.04,84.6 381.8,82.96 384.55,81.33 387.31,79.69 390.06,78.05 392.81,76.4 395.57,74.76 398.33,73.12 401.08,71.48 403.84,69.83 406.59,68.19 409.35,66.55 412.1,64.9 412.1,111.44 409.35,111.28 406.59,111.12 403.84,110.96 401.08,110.8 398.33,110.64 395.57,110.48 392.81,110.33 390.06,110.17 387.31,110.01 384.55,109.86 381.8,109.71 379.04,109.55 376.29,109.4 373.53,109.25 370.77,109.11 368.02,108.97 365.26,108.83 362.51,108.7 359.75,108.57 357.0,108.47 354.25,108.38 351.49,108.32 348.74,108.33 345.98,108.45 343.23,108.8 340.47,109.5 337.71,110.59 334.96,111.92 332.2,113.38 329.45,114.92 326.69,116.49 323.94,118.09 321.19,119.7 318.43,121.32 315.67,122.94 312.92,124.58 310.16,126.21 307.41,127.85 304.65,129.49 301.9,131.13" fill="#000" fill-opacity="0.15"/>
<line x1="301.9" y1="117.9" x2="412.1" y2="88.1" stroke="#000" stroke-width="0.95"/>
</g>
<line x1="297.5" x2="297.5" y1="40.2" y2="200.8" stroke="#000" stroke-width="0.55"/>
<line x1="417.6" x2="417.6" y1="40.2" y2="200.8" stroke="#000" stroke-width="0.55"/>
<line x1="297.2" x2="417.90000000000003" y1="40.5" y2="40.5" stroke="#000" stroke-width="0.75"/>
<line x1="297.2" x2="417.90000000000003" y1="200.5" y2="200.5" stroke="#000" stroke-width="0.75"/>
<line x1="294.15" x2="297.45" y1="54.45" y2="54.45" stroke="#000" stroke-width="0.62"/>
<line x1="294.15" x2="297.45" y1="94.55" y2="94.55" stroke="#000" stroke-width="0.62"/>
<line x1="294.15" x2="297.45" y1="134.65" y2="134.65" stroke="#000" stroke-width="0.62"/>
<line x1="294.15" x2="297.45" y1="174.75" y2="174.75" stroke="#000" stroke-width="0.62"/>
<line x1="301.94" x2="301.94" y1="200.6" y2="203.9" stroke="#000" stroke-width="0.62"/>
<line x1="371.64" x2="371.64" y1="200.6" y2="203.9" stroke="#000" stroke-width="0.62"/>
<text x="342.80" y="36.3" font-size="14.7" fill="#1a1a1a" textLength="29.00" lengthAdjust="spacingAndGlyphs">Cho</text>
<text x="292.16" y="214.9" font-size="13.3" fill="#1a1a1a" textLength="20.00" lengthAdjust="spacingAndGlyphs">0.0</text>
<text x="361.96" y="214.9" font-size="13.3" fill="#1a1a1a" textLength="20.00" lengthAdjust="spacingAndGlyphs">0.1</text>
<text x="325.30" y="228.4" font-size="14.0" fill="#1a1a1a" textLength="63.60" lengthAdjust="spacingAndGlyphs">Centrality</text>
<text x="371.00" y="56.7" font-size="12.8" font-style="italic" fill="#1a1a1a" textLength="5.20" lengthAdjust="spacingAndGlyphs">r</text>
<text x="377.60" y="56.7" font-size="12.8" fill="#1a1a1a" textLength="8.80" lengthAdjust="spacingAndGlyphs">=</text>
<text x="390.20" y="56.7" font-size="12.8" fill="#1a1a1a" textLength="25.60" lengthAdjust="spacingAndGlyphs">0.15</text>
<defs><clipPath id="c3"><rect x="430.5" y="40.4" width="120.70" height="160.20"/></clipPath></defs>
<g clip-path="url(#c3)">
<line x1="430.5" x2="551.2" y1="54.45" y2="54.45" stroke="#000" stroke-opacity="0.075" stroke-width="1"/>
<line x1="430.5" x2="551.2" y1="94.55" y2="94.55" stroke="#000" stroke-opacity="0.075" stroke-width="1"/>
<line x1="430.5" x2="551.2" y1="134.65" y2="134.65" stroke="#000" stroke-opacity="0.075" stroke-width="1"/>
<line x1="430.5" x2="551.2" y1="174.75" y2="174.75" stroke="#000" stroke-opacity="0.075" stroke-width="1"/>
<line x1="435.56" x2="435.56" y1="40.4" y2="200.6" stroke="#000" stroke-opacity="0.075" stroke-width="1"/>
<line x1="505.26" x2="505.26" y1="40.4" y2="200.6" stroke="#000" stroke-opacity="0.075" stroke-width="1"/>
<g fill="#d62728" fill-opacity="0.8">
<circle cx="435.6" cy="57.8" r="3.1"/>
<circle cx="435.6" cy="60.0" r="3.1"/>
<circle cx="435.6" cy="66.7" r="3.1"/>
<circle cx="435.6" cy="69.4" r="3.1"/>
<circle cx="435.6" cy="77.4" r="3.1"/>
<circle cx="435.6" cy="80.1" r="3.1"/>
<circle cx="435.6" cy="84.5" r="3.1"/>
<circle cx="435.6" cy="87.2" r="3.1"/>
<circle cx="435.6" cy="93.4" r="3.1"/>
<circle cx="435.6" cy="114.8" r="3.1"/>
<circle cx="435.6" cy="117.5" r="3.1"/>
<circle cx="438.3" cy="67.1" r="3.1"/>
<circle cx="443.6" cy="92.5" r="3.1"/>
<circle cx="518.4" cy="108.6" r="3.1"/>
<circle cx="518.4" cy="118.7" r="3.1"/>
<circle cx="539.8" cy="119.8" r="3.1"/>
<circle cx="435.6" cy="131.0" r="3.1"/>
<circle cx="435.6" cy="137.4" r="3.1"/>
<circle cx="435.6" cy="144.9" r="3.1"/>
<circle cx="435.6" cy="156.5" r="3.1"/>
<circle cx="435.6" cy="161.0" r="3.1"/>
<circle cx="435.6" cy="162.7" r="3.1"/>
<circle cx="435.6" cy="164.5" r="3.1"/>
<circle cx="435.6" cy="169.9" r="3.1"/>
<circle cx="435.6" cy="171.7" r="3.1"/>
<circle cx="435.6" cy="174.3" r="3.1"/>
<circle cx="435.6" cy="177.0" r="3.1"/>
<circle cx="435.6" cy="183.8" r="3.1"/>
<circle cx="435.6" cy="185.9" r="3.1"/>
<circle cx="435.6" cy="188.6" r="3.1"/>
<circle cx="435.6" cy="191.2" r="3.1"/>
<circle cx="435.6" cy="193.4" r="3.1"/>
<circle cx="505.2" cy="125.3" r="3.1"/>
<circle cx="510.6" cy="138.7" r="3.1"/>
<circle cx="537.3" cy="144.0" r="3.1"/>
<circle cx="545.1" cy="151.2" r="3.1"/>
<circle cx="505.2" cy="148.8" r="3.1"/>
<circle cx="489.2" cy="171.7" r="3.1"/>
<circle cx="494.5" cy="171.7" r="3.1"/>
<circle cx="470.3" cy="176.6" r="3.1"/>
<circle cx="478.5" cy="174.9" r="3.1"/>
<circle cx="448.9" cy="185.5" r="3.1"/>
<circle cx="462.5" cy="183.2" r="3.1"/>
<circle cx="478.5" cy="187.3" r="3.1"/>
<circle cx="481.0" cy="185.9" r="3.1"/>
<circle cx="467.8" cy="192.7" r="3.1"/>
<circle cx="510.6" cy="191.2" r="3.1"/>
<circle cx="545.1" cy="193.0" r="3.1"/>
<circle cx="467.8" cy="54.3" r="3.1"/>
<circle cx="475.7" cy="51.6" r="3.1"/>
<circle cx="484.0" cy="50.3" r="3.1"/>
<circle cx="491.9" cy="57.3" r="3.1"/>
<circle cx="451.6" cy="67.4" r="3.1"/>
<circle cx="459.4" cy="63.9" r="3.1"/>
<circle cx="467.8" cy="61.7" r="3.1"/>
<circle cx="470.8" cy="63.5" r="3.1"/>
<circle cx="480.9" cy="61.7" r="3.1"/>
<circle cx="486.2" cy="62.6" r="3.1"/>
<circle cx="475.7" cy="64.8" r="3.1"/>
<circle cx="462.5" cy="68.3" r="3.1"/>
<circle cx="465.6" cy="67.0" r="3.1"/>
<circle cx="456.8" cy="72.7" r="3.1"/>
<circle cx="462.5" cy="74.4" r="3.1"/>
<circle cx="466.0" cy="71.8" r="3.1"/>
<circle cx="470.4" cy="70.9" r="3.1"/>
<circle cx="473.9" cy="72.7" r="3.1"/>
<circle cx="478.3" cy="67.4" r="3.1"/>
<circle cx="481.8" cy="68.3" r="3.1"/>
<circle cx="485.3" cy="67.4" r="3.1"/>
<circle cx="488.8" cy="67.4" r="3.1"/>
<circle cx="492.7" cy="69.2" r="3.1"/>
<circle cx="497.6" cy="68.7" r="3.1"/>
<circle cx="489.7" cy="71.8" r="3.1"/>
<circle cx="478.3" cy="71.8" r="3.1"/>
<circle cx="482.7" cy="72.7" r="3.1"/>
<circle cx="466.9" cy="77.0" r="3.1"/>
<circle cx="471.3" cy="76.2" r="3.1"/>
<circle cx="475.7" cy="76.2" r="3.1"/>
<circle cx="480.0" cy="76.2" r="3.1"/>
<circle cx="486.2" cy="76.2" r="3.1"/>
<circle cx="491.4" cy="78.8" r="3.1"/>
<circle cx="497.6" cy="81.0" r="3.1"/>
<circle cx="457.3" cy="84.0" r="3.1"/>
<circle cx="462.5" cy="80.5" r="3.1"/>
<circle cx="469.5" cy="81.4" r="3.1"/>
<circle cx="473.9" cy="80.5" r="3.1"/>
<circle cx="478.3" cy="80.5" r="3.1"/>
<circle cx="483.5" cy="81.4" r="3.1"/>
<circle cx="487.9" cy="82.3" r="3.1"/>
<circle cx="464.3" cy="84.9" r="3.1"/>
<circle cx="471.3" cy="84.9" r="3.1"/>
<circle cx="480.0" cy="84.9" r="3.1"/>
<circle cx="456.4" cy="89.3" r="3.1"/>
<circle cx="461.6" cy="86.6" r="3.1"/>
<circle cx="473.9" cy="85.8" r="3.1"/>
<circle cx="482.7" cy="85.8" r="3.1"/>
<circle cx="486.2" cy="85.8" r="3.1"/>
<circle cx="486.2" cy="90.1" r="3.1"/>
<circle cx="481.8" cy="91.0" r="3.1"/>
<circle cx="476.5" cy="90.1" r="3.1"/>
<circle cx="471.3" cy="90.1" r="3.1"/>
<circle cx="466.0" cy="91.0" r="3.1"/>
<circle cx="461.6" cy="91.9" r="3.1"/>
<circle cx="462.5" cy="94.5" r="3.1"/>
<circle cx="467.8" cy="94.5" r="3.1"/>
<circle cx="473.0" cy="95.4" r="3.1"/>
<circle cx="478.3" cy="93.6" r="3.1"/>
<circle cx="482.7" cy="97.1" r="3.1"/>
<circle cx="487.0" cy="97.1" r="3.1"/>
<circle cx="492.3" cy="97.1" r="3.1"/>
<circle cx="497.6" cy="100.6" r="3.1"/>
<circle cx="456.4" cy="100.6" r="3.1"/>
<circle cx="460.8" cy="102.4" r="3.1"/>
<circle cx="465.1" cy="100.6" r="3.1"/>
<circle cx="470.4" cy="100.6" r="3.1"/>
<circle cx="474.8" cy="99.8" r="3.1"/>
<circle cx="478.3" cy="98.9" r="3.1"/>
<circle cx="485.3" cy="101.5" r="3.1"/>
<circle cx="489.7" cy="102.4" r="3.1"/>
<circle cx="453.8" cy="105.0" r="3.1"/>
<circle cx="459.0" cy="105.9" r="3.1"/>
<circle cx="464.3" cy="105.0" r="3.1"/>
<circle cx="469.5" cy="105.0" r="3.1"/>
<circle cx="474.8" cy="105.9" r="3.1"/>
<circle cx="481.8" cy="105.0" r="3.1"/>
<circle cx="483.5" cy="106.8" r="3.1"/>
<circle cx="494.1" cy="107.7" r="3.1"/>
<circle cx="456.4" cy="111.2" r="3.1"/>
<circle cx="462.5" cy="110.3" r="3.1"/>
<circle cx="467.8" cy="109.4" r="3.1"/>
<circle cx="473.0" cy="110.3" r="3.1"/>
<circle cx="478.3" cy="110.3" r="3.1"/>
<circle cx="483.5" cy="110.3" r="3.1"/>
<circle cx="451.6" cy="116.4" r="3.1"/>
<circle cx="466.0" cy="112.9" r="3.1"/>
<circle cx="471.3" cy="113.8" r="3.1"/>
<circle cx="476.5" cy="113.8" r="3.1"/>
<circle cx="481.8" cy="112.9" r="3.1"/>
<circle cx="488.8" cy="114.7" r="3.1"/>
<circle cx="470.4" cy="116.4" r="3.1"/>
<circle cx="474.8" cy="117.3" r="3.1"/>
<circle cx="480.0" cy="117.3" r="3.1"/>
<circle cx="485.3" cy="117.3" r="3.1"/>
<circle cx="497.6" cy="118.6" r="3.1"/>
<circle cx="448.5" cy="122.5" r="3.1"/>
<circle cx="454.6" cy="122.5" r="3.1"/>
<circle cx="465.1" cy="120.8" r="3.1"/>
<circle cx="471.3" cy="120.8" r="3.1"/>
<circle cx="476.5" cy="120.8" r="3.1"/>
<circle cx="482.7" cy="119.9" r="3.1"/>
<circle cx="454.6" cy="126.0" r="3.1"/>
<circle cx="465.1" cy="124.3" r="3.1"/>
<circle cx="475.7" cy="125.2" r="3.1"/>
<circle cx="480.9" cy="126.9" r="3.1"/>
<circle cx="488.8" cy="126.5" r="3.1"/>
<circle cx="488.8" cy="129.5" r="3.1"/>
<circle cx="459.9" cy="131.3" r="3.1"/>
<circle cx="459.9" cy="133.4" r="3.1"/>
<circle cx="475.7" cy="130.8" r="3.1"/>
<circle cx="475.7" cy="133.4" r="3.1"/>
<circle cx="480.9" cy="131.3" r="3.1"/>
<circle cx="480.9" cy="134.3" r="3.1"/>
<circle cx="465.1" cy="135.6" r="3.1"/>
<circle cx="462.5" cy="138.3" r="3.1"/>
<circle cx="465.6" cy="139.1" r="3.1"/>
<circle cx="475.7" cy="136.9" r="3.1"/>
<circle cx="483.5" cy="139.6" r="3.1"/>
<circle cx="484.0" cy="141.3" r="3.1"/>
<circle cx="470.4" cy="145.3" r="3.1"/>
<circle cx="478.3" cy="144.8" r="3.1"/>
<circle cx="454.2" cy="149.7" r="3.1"/>
<circle cx="503.7" cy="149.2" r="3.1"/>
<circle cx="467.8" cy="154.0" r="3.1"/>
<circle cx="473.0" cy="155.3" r="3.1"/>
<circle cx="475.7" cy="152.3" r="3.1"/>
<circle cx="483.5" cy="154.5" r="3.1"/>
<circle cx="456.8" cy="160.2" r="3.1"/>
<circle cx="486.2" cy="159.3" r="3.1"/>
<circle cx="486.6" cy="163.7" r="3.1"/>
<circle cx="451.6" cy="166.7" r="3.1"/>
<circle cx="459.4" cy="165.8" r="3.1"/>
<circle cx="473.0" cy="162.8" r="3.1"/>
<circle cx="475.7" cy="161.0" r="3.1"/>
<circle cx="478.3" cy="163.7" r="3.1"/>
<circle cx="480.9" cy="166.7" r="3.1"/>
<circle cx="475.7" cy="167.2" r="3.1"/>
<circle cx="488.8" cy="169.4" r="3.1"/>
<circle cx="494.1" cy="169.8" r="3.1"/>
</g>
<polygon points="435.6,104.33 438.35,104.59 441.11,104.84 443.86,105.1 446.61,105.35 449.36,105.6 452.12,105.84 454.87,106.07 457.62,106.3 460.37,106.51 463.12,106.69 465.88,106.84 468.63,106.92 471.38,106.87 474.14,106.59 476.89,105.99 479.64,105.07 482.39,103.95 485.15,102.71 487.9,101.42 490.65,100.08 493.4,98.73 496.16,97.36 498.91,95.99 501.66,94.6 504.41,93.21 507.17,91.82 509.92,90.43 512.67,89.03 515.42,87.63 518.18,86.23 520.93,84.83 523.68,83.43 526.43,82.02 529.19,80.62 531.94,79.21 534.69,77.81 537.44,76.4 540.2,74.99 542.95,73.59 545.7,72.18 545.7,115.89 542.95,115.6 540.2,115.32 537.44,115.03 534.69,114.75 531.94,114.46 529.19,114.18 526.43,113.9 523.68,113.61 520.93,113.33 518.18,113.05 515.42,112.77 512.67,112.49 509.92,112.22 507.17,111.95 504.41,111.67 501.66,111.41 498.91,111.14 496.16,110.89 493.4,110.64 490.65,110.41 487.9,110.2 485.15,110.02 482.39,109.91 479.64,109.91 476.89,110.12 474.14,110.65 471.38,111.52 468.63,112.63 465.88,113.87 463.12,115.18 460.37,116.52 457.62,117.89 454.87,119.28 452.12,120.67 449.36,122.07 446.61,123.48 443.86,124.89 441.11,126.3 438.35,127.72 435.6,129.13" fill="#000" fill-opacity="0.15"/>
<line x1="435.6" y1="116.6" x2="545.7" y2="93.8" stroke="#000" stroke-width="0.95"/>
</g>
<line x1="430.5" x2="430.5" y1="39.7" y2="201.3" stroke="#000" stroke-width="0.55"/>
<line x1="551.3" x2="551.3" y1="39.7" y2="201.3" stroke="#000" stroke-width="0.55"/>
<line x1="430.2" x2="551.5999999999999" y1="40.0" y2="40.0" stroke="#000" stroke-width="0.6"/>
<line x1="430.2" x2="551.5999999999999" y1="201.0" y2="201.0" stroke="#000" stroke-width="0.6"/>
<line x1="427.2" x2="430.5" y1="54.45" y2="54.45" stroke="#000" stroke-width="0.62"/>
<line x1="427.2" x2="430.5" y1="94.55" y2="94.55" stroke="#000" stroke-width="0.62"/>
<line x1="427.2" x2="430.5" y1="134.65" y2="134.65" stroke="#000" stroke-width="0.62"/>
<line x1="427.2" x2="430.5" y1="174.75" y2="174.75" stroke="#000" stroke-width="0.62"/>
<line x1="435.56" x2="435.56" y1="200.6" y2="203.9" stroke="#000" stroke-width="0.62"/>
<line x1="505.26" x2="505.26" y1="200.6" y2="203.9" stroke="#000" stroke-width="0.62"/>
<text x="477.80" y="36.3" font-size="14.7" fill="#1a1a1a" textLength="24.60" lengthAdjust="spacingAndGlyphs">Glx</text>
<text x="425.64" y="214.9" font-size="13.3" fill="#1a1a1a" textLength="20.00" lengthAdjust="spacingAndGlyphs">0.0</text>
<text x="495.44" y="214.9" font-size="13.3" fill="#1a1a1a" textLength="20.00" lengthAdjust="spacingAndGlyphs">0.1</text>
<text x="458.60" y="228.4" font-size="14.0" fill="#1a1a1a" textLength="63.60" lengthAdjust="spacingAndGlyphs">Centrality</text>
<text x="494.20" y="56.7" font-size="12.8" font-style="italic" fill="#1a1a1a" textLength="5.20" lengthAdjust="spacingAndGlyphs">r</text>
<text x="501.20" y="56.7" font-size="12.8" fill="#1a1a1a" textLength="9.20" lengthAdjust="spacingAndGlyphs">=</text>
<text x="514.40" y="56.7" font-size="12.8" fill="#1a1a1a" textLength="26.20" lengthAdjust="spacingAndGlyphs">0.12</text>
<defs><clipPath id="c4"><rect x="563.5" y="40.4" width="120.80" height="160.20"/></clipPath></defs>
<g clip-path="url(#c4)">
<line x1="563.5" x2="684.3" y1="54.45" y2="54.45" stroke="#000" stroke-opacity="0.075" stroke-width="1"/>
<line x1="563.5" x2="684.3" y1="94.55" y2="94.55" stroke="#000" stroke-opacity="0.075" stroke-width="1"/>
<line x1="563.5" x2="684.3" y1="134.65" y2="134.65" stroke="#000" stroke-opacity="0.075" stroke-width="1"/>
<line x1="563.5" x2="684.3" y1="174.75" y2="174.75" stroke="#000" stroke-opacity="0.075" stroke-width="1"/>
<line x1="569.18" x2="569.18" y1="40.4" y2="200.6" stroke="#000" stroke-opacity="0.075" stroke-width="1"/>
<line x1="638.88" x2="638.88" y1="40.4" y2="200.6" stroke="#000" stroke-opacity="0.075" stroke-width="1"/>
<g fill="#9467bd" fill-opacity="0.8">
<circle cx="569.2" cy="58.7" r="3.1"/>
<circle cx="569.2" cy="62.3" r="3.1"/>
<circle cx="569.2" cy="66.4" r="3.1"/>
<circle cx="569.2" cy="73.0" r="3.1"/>
<circle cx="569.2" cy="79.2" r="3.1"/>
<circle cx="569.2" cy="87.2" r="3.1"/>
<circle cx="569.2" cy="94.3" r="3.1"/>
<circle cx="569.2" cy="97.0" r="3.1"/>
<circle cx="569.2" cy="107.3" r="3.1"/>
<circle cx="569.2" cy="110.3" r="3.1"/>
<circle cx="569.2" cy="120.5" r="3.1"/>
<circle cx="571.9" cy="72.1" r="3.1"/>
<circle cx="577.2" cy="97.0" r="3.1"/>
<circle cx="639.2" cy="102.0" r="3.1"/>
<circle cx="652.4" cy="105.0" r="3.1"/>
<circle cx="673.8" cy="105.0" r="3.1"/>
<circle cx="652.4" cy="116.6" r="3.1"/>
<circle cx="569.2" cy="124.5" r="3.1"/>
<circle cx="569.2" cy="128.0" r="3.1"/>
<circle cx="569.2" cy="142.3" r="3.1"/>
<circle cx="569.2" cy="151.7" r="3.1"/>
<circle cx="569.2" cy="156.5" r="3.1"/>
<circle cx="569.2" cy="158.3" r="3.1"/>
<circle cx="569.2" cy="161.0" r="3.1"/>
<circle cx="569.2" cy="164.5" r="3.1"/>
<circle cx="569.2" cy="166.7" r="3.1"/>
<circle cx="569.2" cy="170.8" r="3.1"/>
<circle cx="569.2" cy="173.4" r="3.1"/>
<circle cx="569.2" cy="183.2" r="3.1"/>
<circle cx="569.2" cy="185.9" r="3.1"/>
<circle cx="569.2" cy="188.6" r="3.1"/>
<circle cx="569.2" cy="191.2" r="3.1"/>
<circle cx="569.2" cy="193.4" r="3.1"/>
<circle cx="612.0" cy="171.3" r="3.1"/>
<circle cx="622.7" cy="170.8" r="3.1"/>
<circle cx="628.0" cy="170.8" r="3.1"/>
<circle cx="582.6" cy="182.7" r="3.1"/>
<circle cx="596.0" cy="182.7" r="3.1"/>
<circle cx="612.0" cy="186.2" r="3.1"/>
<circle cx="615.0" cy="185.0" r="3.1"/>
<circle cx="601.3" cy="192.7" r="3.1"/>
<circle cx="644.6" cy="191.2" r="3.1"/>
<circle cx="679.1" cy="193.4" r="3.1"/>
<circle cx="639.2" cy="150.6" r="3.1"/>
<circle cx="679.1" cy="147.6" r="3.1"/>
<circle cx="644.6" cy="128.6" r="3.1"/>
<circle cx="671.3" cy="130.3" r="3.1"/>
<circle cx="601.3" cy="52.1" r="3.1"/>
<circle cx="609.2" cy="51.6" r="3.1"/>
<circle cx="604.0" cy="57.8" r="3.1"/>
<circle cx="625.4" cy="56.0" r="3.1"/>
<circle cx="630.7" cy="58.6" r="3.1"/>
<circle cx="614.0" cy="59.1" r="3.1"/>
<circle cx="617.5" cy="57.3" r="3.1"/>
<circle cx="620.2" cy="60.4" r="3.1"/>
<circle cx="622.8" cy="63.0" r="3.1"/>
<circle cx="617.5" cy="63.0" r="3.1"/>
<circle cx="593.0" cy="65.7" r="3.1"/>
<circle cx="596.1" cy="64.3" r="3.1"/>
<circle cx="599.1" cy="64.8" r="3.1"/>
<circle cx="603.5" cy="63.9" r="3.1"/>
<circle cx="607.9" cy="64.8" r="3.1"/>
<circle cx="609.7" cy="61.7" r="3.1"/>
<circle cx="613.2" cy="66.1" r="3.1"/>
<circle cx="585.1" cy="69.2" r="3.1"/>
<circle cx="606.6" cy="68.3" r="3.1"/>
<circle cx="612.3" cy="68.3" r="3.1"/>
<circle cx="614.9" cy="70.0" r="3.1"/>
<circle cx="619.3" cy="70.0" r="3.1"/>
<circle cx="596.1" cy="73.1" r="3.1"/>
<circle cx="601.3" cy="72.2" r="3.1"/>
<circle cx="598.3" cy="77.0" r="3.1"/>
<circle cx="601.8" cy="76.2" r="3.1"/>
<circle cx="605.3" cy="78.8" r="3.1"/>
<circle cx="609.7" cy="75.3" r="3.1"/>
<circle cx="614.0" cy="73.5" r="3.1"/>
<circle cx="617.5" cy="73.5" r="3.1"/>
<circle cx="621.0" cy="72.7" r="3.1"/>
<circle cx="625.4" cy="76.2" r="3.1"/>
<circle cx="630.7" cy="80.1" r="3.1"/>
<circle cx="590.4" cy="78.8" r="3.1"/>
<circle cx="590.4" cy="82.3" r="3.1"/>
<circle cx="598.3" cy="83.2" r="3.1"/>
<circle cx="605.3" cy="82.3" r="3.1"/>
<circle cx="610.5" cy="80.5" r="3.1"/>
<circle cx="614.9" cy="79.7" r="3.1"/>
<circle cx="620.2" cy="82.3" r="3.1"/>
<circle cx="624.5" cy="79.7" r="3.1"/>
<circle cx="601.8" cy="84.9" r="3.1"/>
<circle cx="608.8" cy="84.9" r="3.1"/>
<circle cx="615.8" cy="84.9" r="3.1"/>
<circle cx="590.4" cy="89.7" r="3.1"/>
<circle cx="595.6" cy="87.5" r="3.1"/>
<circle cx="605.3" cy="85.8" r="3.1"/>
<circle cx="620.2" cy="85.8" r="3.1"/>
<circle cx="619.3" cy="91.0" r="3.1"/>
<circle cx="614.0" cy="91.9" r="3.1"/>
<circle cx="608.8" cy="91.0" r="3.1"/>
<circle cx="603.5" cy="90.1" r="3.1"/>
<circle cx="596.5" cy="92.8" r="3.1"/>
<circle cx="625.4" cy="94.5" r="3.1"/>
<circle cx="600.9" cy="95.4" r="3.1"/>
<circle cx="606.1" cy="96.3" r="3.1"/>
<circle cx="611.4" cy="95.4" r="3.1"/>
<circle cx="616.7" cy="96.3" r="3.1"/>
<circle cx="597.4" cy="98.9" r="3.1"/>
<circle cx="602.6" cy="99.8" r="3.1"/>
<circle cx="608.8" cy="99.8" r="3.1"/>
<circle cx="614.9" cy="98.9" r="3.1"/>
<circle cx="620.2" cy="100.6" r="3.1"/>
<circle cx="626.3" cy="100.6" r="3.1"/>
<circle cx="630.7" cy="103.3" r="3.1"/>
<circle cx="636.8" cy="102.8" r="3.1"/>
<circle cx="582.5" cy="102.8" r="3.1"/>
<circle cx="587.8" cy="104.2" r="3.1"/>
<circle cx="593.0" cy="105.0" r="3.1"/>
<circle cx="598.3" cy="104.2" r="3.1"/>
<circle cx="603.5" cy="103.3" r="3.1"/>
<circle cx="607.9" cy="104.2" r="3.1"/>
<circle cx="585.6" cy="108.5" r="3.1"/>
<circle cx="595.6" cy="107.7" r="3.1"/>
<circle cx="600.9" cy="107.7" r="3.1"/>
<circle cx="606.1" cy="107.7" r="3.1"/>
<circle cx="611.4" cy="108.5" r="3.1"/>
<circle cx="617.5" cy="107.7" r="3.1"/>
<circle cx="622.8" cy="109.4" r="3.1"/>
<circle cx="630.7" cy="111.2" r="3.1"/>
<circle cx="593.0" cy="112.9" r="3.1"/>
<circle cx="599.1" cy="112.9" r="3.1"/>
<circle cx="604.4" cy="112.0" r="3.1"/>
<circle cx="609.7" cy="112.0" r="3.1"/>
<circle cx="614.9" cy="112.0" r="3.1"/>
<circle cx="618.4" cy="112.9" r="3.1"/>
<circle cx="599.1" cy="116.4" r="3.1"/>
<circle cx="605.3" cy="116.4" r="3.1"/>
<circle cx="610.5" cy="116.4" r="3.1"/>
<circle cx="616.7" cy="117.3" r="3.1"/>
<circle cx="601.8" cy="120.8" r="3.1"/>
<circle cx="607.9" cy="120.8" r="3.1"/>
<circle cx="614.0" cy="120.8" r="3.1"/>
<circle cx="622.8" cy="119.9" r="3.1"/>
<circle cx="622.8" cy="122.5" r="3.1"/>
<circle cx="588.6" cy="123.4" r="3.1"/>
<circle cx="598.3" cy="123.4" r="3.1"/>
<circle cx="604.4" cy="123.4" r="3.1"/>
<circle cx="610.5" cy="124.3" r="3.1"/>
<circle cx="616.7" cy="124.3" r="3.1"/>
<circle cx="587.8" cy="126.9" r="3.1"/>
<circle cx="597.4" cy="126.9" r="3.1"/>
<circle cx="605.3" cy="126.9" r="3.1"/>
<circle cx="607.0" cy="129.5" r="3.1"/>
<circle cx="614.9" cy="129.5" r="3.1"/>
<circle cx="612.3" cy="133.0" r="3.1"/>
<circle cx="617.5" cy="133.0" r="3.1"/>
<circle cx="609.2" cy="135.2" r="3.1"/>
<circle cx="587.8" cy="136.3" r="3.1"/>
<circle cx="595.6" cy="134.8" r="3.1"/>
<circle cx="598.7" cy="135.6" r="3.1"/>
<circle cx="604.0" cy="140.4" r="3.1"/>
<circle cx="604.0" cy="142.6" r="3.1"/>
<circle cx="611.9" cy="142.6" r="3.1"/>
<circle cx="617.5" cy="143.5" r="3.1"/>
<circle cx="601.3" cy="147.5" r="3.1"/>
<circle cx="637.7" cy="150.5" r="3.1"/>
<circle cx="609.2" cy="150.1" r="3.1"/>
<circle cx="612.7" cy="150.1" r="3.1"/>
<circle cx="609.2" cy="155.3" r="3.1"/>
<circle cx="617.5" cy="154.5" r="3.1"/>
<circle cx="620.2" cy="152.7" r="3.1"/>
<circle cx="620.2" cy="157.5" r="3.1"/>
<circle cx="614.5" cy="158.8" r="3.1"/>
<circle cx="590.4" cy="153.8" r="3.1"/>
<circle cx="585.1" cy="158.0" r="3.1"/>
<circle cx="620.2" cy="163.2" r="3.1"/>
<circle cx="609.2" cy="161.5" r="3.1"/>
<circle cx="606.1" cy="164.5" r="3.1"/>
<circle cx="593.0" cy="167.6" r="3.1"/>
<circle cx="603.5" cy="168.5" r="3.1"/>
<circle cx="611.9" cy="169.4" r="3.1"/>
</g>
<polygon points="569.2,103.8 571.95,104.03 574.7,104.26 577.44,104.48 580.19,104.71 582.94,104.93 585.69,105.15 588.43,105.35 591.18,105.55 593.93,105.74 596.68,105.9 599.42,106.02 602.17,106.07 604.92,106.0 607.67,105.68 610.41,105.01 613.16,104.0 615.91,102.77 618.66,101.43 621.4,100.03 624.15,98.59 626.9,97.13 629.64,95.66 632.39,94.18 635.14,92.69 637.89,91.2 640.63,89.71 643.38,88.21 646.13,86.71 648.88,85.21 651.62,83.7 654.37,82.2 657.12,80.69 659.87,79.19 662.62,77.68 665.36,76.17 668.11,74.66 670.86,73.15 673.61,71.65 676.35,70.14 679.1,68.63 679.1,115.48 676.35,115.18 673.61,114.87 670.86,114.56 668.11,114.26 665.36,113.95 662.62,113.65 659.87,113.34 657.12,113.04 654.37,112.74 651.62,112.43 648.88,112.13 646.13,111.83 643.38,111.53 640.63,111.24 637.89,110.94 635.14,110.65 632.39,110.37 629.64,110.09 626.9,109.82 624.15,109.56 621.4,109.32 618.66,109.12 615.91,108.97 613.16,108.95 610.41,109.15 607.67,109.75 604.92,110.74 602.17,112.0 599.42,113.4 596.68,114.87 593.93,116.37 591.18,117.89 588.43,119.43 585.69,120.98 582.94,122.53 580.19,124.09 577.44,125.66 574.7,127.22 571.95,128.79 569.2,130.36" fill="#000" fill-opacity="0.15"/>
<line x1="569.2" y1="116.6" x2="679.1" y2="91.2" stroke="#000" stroke-width="0.95"/>
</g>
<line x1="563.5" x2="563.5" y1="39.7" y2="201.3" stroke="#000" stroke-width="0.55"/>
<line x1="684.4" x2="684.4" y1="39.7" y2="201.3" stroke="#000" stroke-width="0.55"/>
<line x1="563.2" x2="684.6999999999999" y1="40.0" y2="40.0" stroke="#000" stroke-width="0.6"/>
<line x1="563.2" x2="684.6999999999999" y1="201.0" y2="201.0" stroke="#000" stroke-width="0.6"/>
<line x1="560.2" x2="563.5" y1="54.45" y2="54.45" stroke="#000" stroke-width="0.62"/>
<line x1="560.2" x2="563.5" y1="94.55" y2="94.55" stroke="#000" stroke-width="0.62"/>
<line x1="560.2" x2="563.5" y1="134.65" y2="134.65" stroke="#000" stroke-width="0.62"/>
<line x1="560.2" x2="563.5" y1="174.75" y2="174.75" stroke="#000" stroke-width="0.62"/>
<line x1="569.18" x2="569.18" y1="200.6" y2="203.9" stroke="#000" stroke-width="0.62"/>
<line x1="638.88" x2="638.88" y1="200.6" y2="203.9" stroke="#000" stroke-width="0.62"/>
<text x="613.20" y="36.3" font-size="14.7" fill="#1a1a1a" textLength="22.40" lengthAdjust="spacingAndGlyphs">tCr</text>
<text x="559.12" y="214.9" font-size="13.3" fill="#1a1a1a" textLength="21.00" lengthAdjust="spacingAndGlyphs">0.0</text>
<text x="628.92" y="214.9" font-size="13.3" fill="#1a1a1a" textLength="20.00" lengthAdjust="spacingAndGlyphs">0.1</text>
<text x="591.80" y="228.4" font-size="14.0" fill="#1a1a1a" textLength="63.60" lengthAdjust="spacingAndGlyphs">Centrality</text>
<text x="636.80" y="56.7" font-size="12.8" font-style="italic" fill="#1a1a1a" textLength="5.20" lengthAdjust="spacingAndGlyphs">r</text>
<text x="643.40" y="56.7" font-size="12.8" fill="#1a1a1a" textLength="9.00" lengthAdjust="spacingAndGlyphs">=</text>
<text x="655.60" y="56.7" font-size="12.8" fill="#1a1a1a" textLength="26.80" lengthAdjust="spacingAndGlyphs">0.13</text>
<text transform="translate(20.3,142.80) rotate(-90)" font-size="14.5" fill="#1a1a1a" textLength="45.80" lengthAdjust="spacingAndGlyphs">z-score</text>
<text x="155.20" y="265.1" font-size="19.5" font-weight="bold" fill="#111" textLength="13.80" lengthAdjust="spacingAndGlyphs">b</text>
<text x="248.20" y="254.4" font-size="15.5" fill="#1a1a1a" textLength="258.20" lengthAdjust="spacingAndGlyphs">Group (N=41) Degree Centrality</text>
<line x1="218.60" x2="218.60" y1="260.4" y2="472.0" stroke="#000" stroke-opacity="0.235" stroke-width="1"/>
<line x1="257.57" x2="257.57" y1="260.4" y2="472.0" stroke="#000" stroke-opacity="0.235" stroke-width="1"/>
<line x1="296.55" x2="296.55" y1="260.4" y2="472.0" stroke="#000" stroke-opacity="0.235" stroke-width="1"/>
<line x1="335.52" x2="335.52" y1="260.4" y2="472.0" stroke="#000" stroke-opacity="0.235" stroke-width="1"/>
<line x1="374.50" x2="374.50" y1="260.4" y2="472.0" stroke="#000" stroke-opacity="0.235" stroke-width="1"/>
<line x1="413.48" x2="413.48" y1="260.4" y2="472.0" stroke="#000" stroke-opacity="0.235" stroke-width="1"/>
<line x1="452.45" x2="452.45" y1="260.4" y2="472.0" stroke="#000" stroke-opacity="0.235" stroke-width="1"/>
<line x1="491.42" x2="491.42" y1="260.4" y2="472.0" stroke="#000" stroke-opacity="0.235" stroke-width="1"/>
<line x1="530.40" x2="530.40" y1="260.4" y2="472.0" stroke="#000" stroke-opacity="0.235" stroke-width="1"/>
<line x1="203.5" x2="545.6" y1="472.01" y2="472.01" stroke="#000" stroke-opacity="0.235" stroke-width="1"/>
<line x1="203.5" x2="545.6" y1="429.68" y2="429.68" stroke="#000" stroke-opacity="0.235" stroke-width="1"/>
<line x1="203.5" x2="545.6" y1="387.35" y2="387.35" stroke="#000" stroke-opacity="0.235" stroke-width="1"/>
<line x1="203.5" x2="545.6" y1="345.02" y2="345.02" stroke="#000" stroke-opacity="0.235" stroke-width="1"/>
<line x1="203.5" x2="545.6" y1="302.69" y2="302.69" stroke="#000" stroke-opacity="0.235" stroke-width="1"/>
<line x1="203.5" x2="545.6" y1="260.36" y2="260.36" stroke="#000" stroke-opacity="0.235" stroke-width="1"/>
<polyline points="218.60,387.35 230.90,307.80 233.30,288.70 234.50,282.70 236.10,282.30 238.10,278.40 240.90,276.20 243.30,277.20 245.30,279.60 247.70,283.90 250.90,288.70 255.00,294.50 262.00,301.40 269.00,307.90 273.70,311.20 280.00,311.50 290.00,311.90 297.00,313.10 307.60,313.90 315.70,313.10 325.00,314.50 335.00,314.90 362.00,314.40 400.00,312.80 440.00,312.50 480.00,312.00 530.40,311.20" fill="none" stroke="#1f77b4" stroke-width="1.4" stroke-linejoin="round"/>
<polyline points="218.60,387.35 231.10,307.80 234.10,288.20 236.50,286.80 238.90,283.20 241.30,282.40 243.30,283.60 246.90,289.20 250.90,294.50 255.00,302.00 262.00,306.50 268.00,309.50 272.50,310.20 275.00,309.60 278.40,311.40 282.00,312.60 287.70,314.30 290.00,312.50 297.00,314.30 307.60,316.60 315.70,317.80 325.00,316.60 335.00,316.60 354.00,316.00 378.00,315.00 407.00,313.60 440.00,312.60 484.00,312.10 530.40,310.80" fill="none" stroke="#ff7f0e" stroke-width="1.4" stroke-linejoin="round"/>
<polyline points="218.60,387.35 232.10,307.80 234.10,295.90 236.50,291.10 238.90,288.30 241.30,289.10 243.30,289.50 245.30,291.90 247.70,294.30 250.90,295.50 254.80,298.60 258.00,301.50 262.00,304.30 266.00,306.00 270.20,306.70 274.00,306.80 278.40,308.40 283.00,308.10 290.00,309.60 293.60,310.40 301.70,309.60 308.00,308.50 315.70,307.30 325.00,308.10 330.00,307.70 339.60,307.20 352.50,308.50 373.30,306.70 389.40,305.30 413.50,305.60 426.30,304.80 436.00,305.00 447.20,303.30 476.10,302.80 500.20,302.30 530.40,302.00" fill="none" stroke="#2ca02c" stroke-width="1.4" stroke-linejoin="round"/>
<polyline points="218.60,387.35 231.20,307.80 234.10,288.70 235.30,287.10 238.10,282.00 240.70,279.60 242.90,282.00 246.90,287.90 250.90,294.30 254.80,302.50 262.00,307.90 266.70,310.20 271.40,313.10 275.00,311.80 279.50,312.50 284.00,311.80 290.00,313.10 295.90,314.90 307.60,316.00 320.00,316.30 335.00,317.00 352.00,316.60 375.00,316.00 388.00,314.80 399.00,316.00 410.00,313.20 436.00,313.20 444.00,314.30 458.00,314.90 484.00,314.00 530.40,313.20" fill="none" stroke="#d62728" stroke-width="1.4" stroke-linejoin="round"/>
<polyline points="218.60,387.35 231.00,307.80 234.10,287.10 236.50,286.30 238.90,282.70 241.30,281.90 243.30,283.10 246.90,288.70 250.90,292.70 255.00,298.50 262.00,304.30 269.00,308.40 274.90,307.90 279.50,310.80 285.40,311.40 290.00,312.50 294.70,314.90 303.00,314.30 315.70,313.70 335.00,314.30 362.10,313.20 394.20,312.50 440.00,311.80 458.00,310.40 468.00,311.20 530.40,310.50" fill="none" stroke="#9467bd" stroke-width="1.4" stroke-linejoin="round"/>
<rect x="207.8" y="401.6" width="52.5" height="65.1" rx="2.5" fill="#fff" fill-opacity="0.8" stroke="#ccc" stroke-width="0.8"/>
<line x1="210.6" x2="229" y1="408.8" y2="408.8" stroke="#1f77b4" stroke-width="1.4"/>
<text x="235.80" y="411.7" font-size="8.9" fill="#1a1a1a" textLength="20.80" lengthAdjust="spacingAndGlyphs">tNAA</text>
<line x1="210.6" x2="229" y1="421.4" y2="421.4" stroke="#ff7f0e" stroke-width="1.4"/>
<text x="234.80" y="424.5" font-size="8.9" fill="#1a1a1a" textLength="12.40" lengthAdjust="spacingAndGlyphs">Ins</text>
<line x1="210.6" x2="229" y1="434.0" y2="434.0" stroke="#2ca02c" stroke-width="1.4"/>
<text x="234.80" y="436.7" font-size="8.9" fill="#1a1a1a" textLength="17.80" lengthAdjust="spacingAndGlyphs">Cho</text>
<line x1="210.6" x2="229" y1="446.6" y2="446.6" stroke="#d62728" stroke-width="1.4"/>
<text x="234.80" y="449.5" font-size="8.9" fill="#1a1a1a" textLength="14.60" lengthAdjust="spacingAndGlyphs">Glx</text>
<line x1="210.6" x2="229" y1="459.2" y2="459.2" stroke="#9467bd" stroke-width="1.4"/>
<text x="235.80" y="461.8" font-size="8.9" fill="#1a1a1a" textLength="11.80" lengthAdjust="spacingAndGlyphs">tCr</text>
<line x1="203.5" x2="203.5" y1="260.1" y2="472.2" stroke="#000" stroke-width="0.72"/>
<line x1="545.6" x2="545.6" y1="260.1" y2="472.2" stroke="#000" stroke-width="0.72"/>
<line x1="203.2" x2="545.9" y1="260.5" y2="260.5" stroke="#000" stroke-width="0.75"/>
<line x1="203.2" x2="545.9" y1="472.0" y2="472.0" stroke="#000" stroke-width="0.8"/>
<line x1="218.60" x2="218.60" y1="472.0" y2="475.3" stroke="#000" stroke-width="0.62"/>
<line x1="257.57" x2="257.57" y1="472.0" y2="475.3" stroke="#000" stroke-width="0.62"/>
<line x1="296.55" x2="296.55" y1="472.0" y2="475.3" stroke="#000" stroke-width="0.62"/>
<line x1="335.52" x2="335.52" y1="472.0" y2="475.3" stroke="#000" stroke-width="0.62"/>
<line x1="374.50" x2="374.50" y1="472.0" y2="475.3" stroke="#000" stroke-width="0.62"/>
<line x1="413.48" x2="413.48" y1="472.0" y2="475.3" stroke="#000" stroke-width="0.62"/>
<line x1="452.45" x2="452.45" y1="472.0" y2="475.3" stroke="#000" stroke-width="0.62"/>
<line x1="491.42" x2="491.42" y1="472.0" y2="475.3" stroke="#000" stroke-width="0.62"/>
<line x1="530.40" x2="530.40" y1="472.0" y2="475.3" stroke="#000" stroke-width="0.62"/>
<text x="209.80" y="485.8" font-size="13.3" fill="#1a1a1a" textLength="19.00" lengthAdjust="spacingAndGlyphs">0.0</text>
<text x="286.60" y="485.8" font-size="13.3" fill="#1a1a1a" textLength="20.00" lengthAdjust="spacingAndGlyphs">5.0</text>
<text x="360.60" y="485.8" font-size="13.3" fill="#1a1a1a" textLength="27.60" lengthAdjust="spacingAndGlyphs">10.0</text>
<text x="438.40" y="485.8" font-size="13.3" fill="#1a1a1a" textLength="27.60" lengthAdjust="spacingAndGlyphs">15.0</text>
<text x="517.20" y="485.8" font-size="13.3" fill="#1a1a1a" textLength="27.60" lengthAdjust="spacingAndGlyphs">20.0</text>
<line x1="200.2" x2="203.5" y1="472.01" y2="472.01" stroke="#000" stroke-width="0.62"/>
<text x="169.60" y="476.86000000000007" font-size="13.3" fill="#1a1a1a" textLength="28.00" lengthAdjust="spacingAndGlyphs">−0.2</text>
<line x1="200.2" x2="203.5" y1="429.68" y2="429.68" stroke="#000" stroke-width="0.62"/>
<text x="169.60" y="434.53000000000003" font-size="13.3" fill="#1a1a1a" textLength="28.00" lengthAdjust="spacingAndGlyphs">−0.1</text>
<line x1="200.2" x2="203.5" y1="387.35" y2="387.35" stroke="#000" stroke-width="0.62"/>
<text x="178.20" y="392.20000000000005" font-size="13.3" fill="#1a1a1a" textLength="19.20" lengthAdjust="spacingAndGlyphs">0.0</text>
<line x1="200.2" x2="203.5" y1="345.02" y2="345.02" stroke="#000" stroke-width="0.62"/>
<text x="178.20" y="349.87" font-size="13.3" fill="#1a1a1a" textLength="19.20" lengthAdjust="spacingAndGlyphs">0.1</text>
<line x1="200.2" x2="203.5" y1="302.69" y2="302.69" stroke="#000" stroke-width="0.62"/>
<text x="178.20" y="307.54" font-size="13.3" fill="#1a1a1a" textLength="19.20" lengthAdjust="spacingAndGlyphs">0.2</text>
<line x1="200.2" x2="203.5" y1="260.36" y2="260.36" stroke="#000" stroke-width="0.62"/>
<text x="178.20" y="265.21000000000004" font-size="13.3" fill="#1a1a1a" textLength="19.20" lengthAdjust="spacingAndGlyphs">0.3</text>
<text transform="translate(165.0,434.60) rotate(-90)" font-size="13.4" fill="#1a1a1a" textLength="137.00" lengthAdjust="spacingAndGlyphs">Pearson Correlation</text>
<text x="312.80" y="498.5" font-size="13.4" fill="#1a1a1a" textLength="123.60" lengthAdjust="spacingAndGlyphs">Edge Density [%]</text>
</svg>
</body></html>
